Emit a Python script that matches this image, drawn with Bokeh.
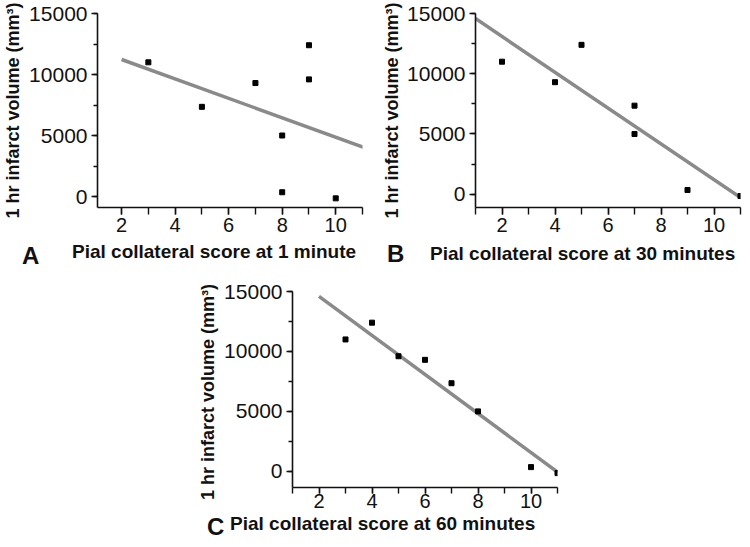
from bokeh.plotting import figure
from bokeh.models import SingleIntervalTicker, Range1d, Spacer, Div
from bokeh.layouts import column, row
from bokeh.embed import file_html
from bokeh.resources import INLINE

# ---- data ----
a_score = [3, 5, 7, 9, 9, 8, 8, 10]
a_volume = [11000, 7350, 9300, 12400, 9600, 5000, 350, -150]
a_fit_x = [2.0, 11.2]
a_fit_y = [11230, 3910]

b_score = [2, 4, 5, 7, 7, 9, 11]
b_volume = [11000, 9300, 12400, 7350, 5000, 350, -150]
b_fit_x = [1.0, 11.0]
b_fit_y = [14580, -280]

c_score = [3, 4, 5, 6, 7, 8, 10, 11]
c_volume = [11000, 12400, 9600, 9300, 7350, 5000, 350, -150]
c_fit_x = [2.0, 11.0]
c_fit_y = [14600, -60]

y_title = "1 hr infarct volume (mm\u00b3)"
x_titles = ["Pial collateral score at 1 minute",
            "Pial collateral score at 30 minutes",
            "Pial collateral score at 60 minutes"]
letters = ["A", "B", "C"]

FONT = "Liberation Sans"
INK = "#111111"


def panel(xs, ys, fx, fy, xr, yr, w, h, bl, br, bt, bb,
          ypad, ystand, xtick_out, xstand):
    p = figure(width=w, height=h, output_backend="svg", toolbar_location=None,
               x_range=Range1d(*xr), y_range=Range1d(*yr),
               min_border_left=bl, min_border_right=br,
               min_border_top=bt, min_border_bottom=bb)
    p.outline_line_color = None
    p.grid.visible = False

    p.xaxis.ticker = SingleIntervalTicker(interval=2, num_minor_ticks=2)
    p.yaxis.ticker = SingleIntervalTicker(interval=5000, num_minor_ticks=2)
    for ax in (p.xaxis, p.yaxis):
        ax.axis_line_width = 1.6
        ax.axis_line_color = INK
        ax.major_tick_line_color = INK
        ax.minor_tick_line_color = INK
        ax.major_tick_line_width = 1.4
        ax.minor_tick_line_width = 1.4
        ax.major_tick_in = 0
        ax.minor_tick_in = 0
        ax.major_label_text_font = FONT
        ax.major_label_text_font_size = "21px"
        ax.major_label_text_color = INK
    p.xaxis.major_label_text_font_size = "20px"
    p.xaxis.major_tick_out = xtick_out
    p.xaxis.minor_tick_out = xtick_out
    p.xaxis.major_label_standoff = xstand
    p.yaxis.major_tick_out = 6
    p.yaxis.minor_tick_out = 4
    p.yaxis.major_label_standoff = 4

    p.yaxis.axis_label = y_title + "\u00a0" * ypad
    p.yaxis.axis_label_text_font = FONT
    p.yaxis.axis_label_text_font_size = "18px"
    p.yaxis.axis_label_text_font_style = "bold"
    p.yaxis.axis_label_text_color = INK
    p.yaxis.axis_label_standoff = ystand

    p.line(fx, fy, line_color="#8a8a8a", line_width=3.5)
    p.scatter(xs, ys, marker="square", size=5, fill_color="black",
              line_color="black")
    return p


def span(text, left, top, size):
    return ('<span style="position:absolute;left:%dpx;top:%dpx;'
            "font-family:'Liberation Sans',Arial,sans-serif;font-size:%dpx;"
            'font-weight:bold;line-height:%dpx;white-space:nowrap;'
            'color:%s;">%s</span>' % (left, top, size, size, INK, text))


def strip(w, h, items):
    html = ('<div style="position:relative;width:%dpx;height:%dpx;'
            'overflow:visible;">' % (w, h)) + "".join(items) + "</div>"
    return Div(text=html, width=w, height=h, margin=(0, 0, 0, 0),
               styles={"overflow": "visible"})


pA = panel(a_score, a_volume, a_fit_x, a_fit_y, (1.1, 11.0), (-900, 15000),
           375, 241, 97, 13, 13, 34, 0, 3, 7, 3)
pB = panel(b_score, b_volume, b_fit_x, b_fit_y, (1.0, 11.0), (-1100, 15000),
           375, 241, 100, 10, 12, 34, 0, 2, 7, 3)
pC = panel(c_score, c_volume, c_fit_x, c_fit_y, (1.0, 11.0), (-1350, 15000),
           375, 247, 102, 8, 21, 30, 1, 3, 6, 0)

dA = strip(375, 29, [span(letters[0], 22, 3, 24), span(x_titles[0], 72, 1, 19)])
dB = strip(375, 29, [span(letters[1], 12, 1, 24), span(x_titles[1], 55, 3, 19)])
dC = strip(375, 30, [span(letters[2], 17, -2, 24), span(x_titles[2], 40, -3, 19)])

layout = column(
    row(pA, pB),
    row(dA, dB),
    row(Spacer(width=190, height=247), pC),
    row(Spacer(width=190, height=30), dC),
)
open("out.html", "w").write(file_html(layout, INLINE))
